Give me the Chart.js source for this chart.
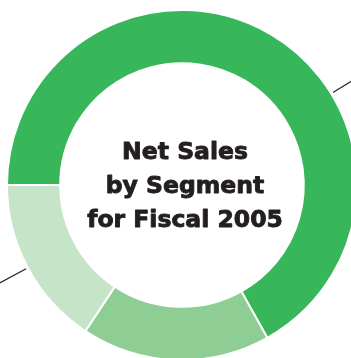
<!DOCTYPE html>
<html>
<head>
<meta charset="utf-8">
<title>Net Sales by Segment for Fiscal 2005</title>
<script src="https://cdn.jsdelivr.net/npm/chart.js@4/dist/chart.umd.min.js"></script>
<style>
	html, body { margin: 0; padding: 0; background: #fff; overflow: hidden; width: 351px; height: 358px; }
	#wrap { position: absolute; left: -18px; top: -15px; width: 400px; height: 400px; }
</style>
</head>
<body>
<div id="wrap"><canvas id="segment-doughnut" width="400" height="400"></canvas></div>
<script>
	/** 세그먼트별 매출 비중 (%) **/
	const segments = ['Segment A', 'Segment B', 'Segment C'];
	const shares = [66.9, 17.4, 15.7];
	const titleLines = ['Net Sales', 'by Segment', 'for Fiscal 2005'];

	const segmentColors = ['#37b65a', '#8ecd93', '#c6e4c7'];

	/** 가운데 제목 **/
	const centerTitle = {
		id: 'centerTitle',
		afterDraw(chart, args, opts) {
			const arc = chart.getDatasetMeta(0).data[0];
			if (!arc) return;
			const ctx = chart.ctx;
			ctx.save();
			ctx.font = opts.font;
			ctx.fillStyle = opts.color;
			ctx.strokeStyle = opts.color;
			ctx.lineWidth = opts.weight;
			ctx.lineJoin = 'round';
			ctx.textAlign = 'center';
			ctx.textBaseline = 'alphabetic';
			titleLines.forEach((line, i) => {
				const x = arc.x + opts.shiftX;
				const y = arc.y + opts.baseline + (i - 1) * opts.lineHeight;
				ctx.fillText(line, x, y);
				ctx.strokeText(line, x, y);
			});
			ctx.restore();
		}
	};

	/** 라벨 지시선 **/
	const leaderLines = {
		id: 'leaderLines',
		afterDatasetsDraw(chart, args, opts) {
			const ctx = chart.ctx;
			ctx.save();
			ctx.strokeStyle = opts.color;
			ctx.lineWidth = opts.width;
			chart.getDatasetMeta(0).data.forEach((arc, i) => {
				const p = arc.getProps(['x', 'y', 'startAngle', 'endAngle', 'outerRadius'], true);
				let angle = (p.startAngle + p.endAngle) / 2;
				if (opts.angles[i] != null) angle = (opts.angles[i] - 90) * Math.PI / 180;
				const r1 = p.outerRadius + opts.gap;
				const r2 = p.outerRadius + opts.length;
				ctx.beginPath();
				ctx.moveTo(p.x + Math.cos(angle) * r1, p.y + Math.sin(angle) * r1);
				ctx.lineTo(p.x + Math.cos(angle) * r2, p.y + Math.sin(angle) * r2);
				ctx.stroke();
			});
			ctx.restore();
		}
	};

	let segmentChart = new Chart(document.getElementById('segment-doughnut'), {
		type: 'doughnut',
		data: {
			labels: segments,
			datasets: [{
				data: shares,
				backgroundColor: segmentColors,
				borderColor: '#ffffff',
				borderWidth: 2,
				hoverOffset: 0,
				offset: 0
			}]
		},
		options: {
			responsive: false,
			animation: false,
			rotation: 270,
			cutout: '69.6%',
			layout: { padding: 24 },
			events: [],
			plugins: {
				legend: { display: false },
				tooltip: { enabled: false },
				centerTitle: {
					font: 'bold 23.5px "DejaVu Sans"',
					color: '#231f20',
					weight: 0.9,
					shiftX: 3,
					baseline: 8,
					lineHeight: 33.7
				},
				leaderLines: {
					angles: [58.5, null, null],
					color: '#231f20',
					width: 1.2,
					gap: 2,
					length: 60
				}
			}
		},
		plugins: [leaderLines, centerTitle]
	});
</script>
</body>
</html>
